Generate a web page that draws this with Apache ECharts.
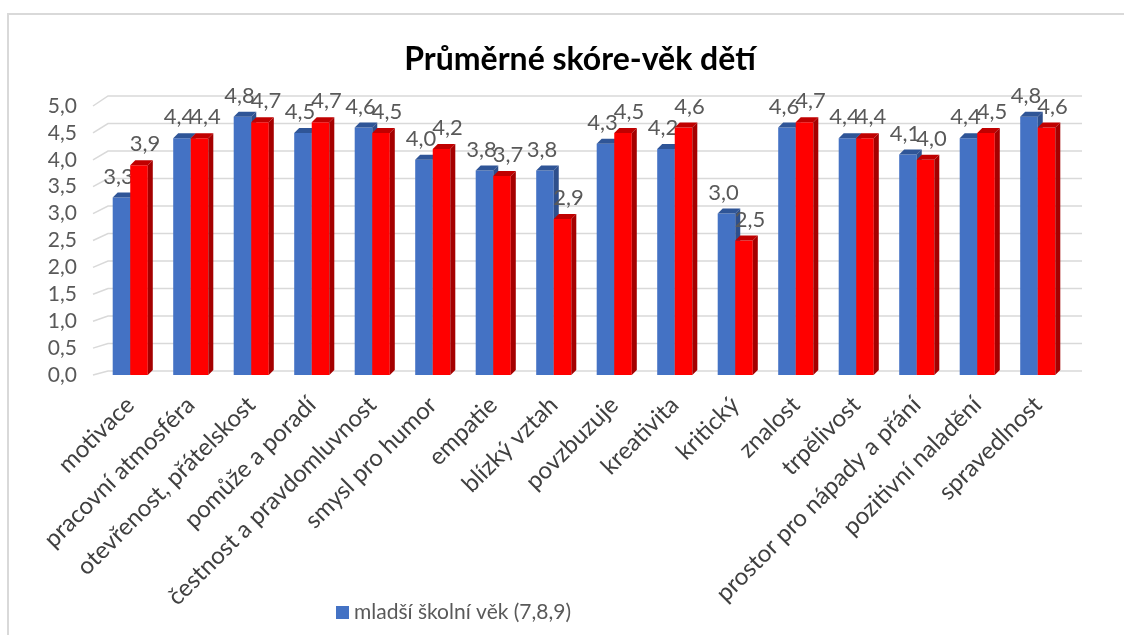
<!DOCTYPE html>
<html>
<head>
<meta charset="UTF-8">
<title>prumerne-skore-vek-deti</title>
<script src="https://cdn.jsdelivr.net/npm/echarts@6/dist/echarts.min.js"></script>
<style type="text/css">
html, body {
	margin: 0;
	padding: 0;
	background: #fff;
}

#main {
	width: 1124px;
	height: 635px;
}
</style>
</head>
<body>
	<div id="main"></div>
	<script type="text/javascript">
		// kategorie na ose x
		var categories = ['motivace', 'pracovní atmosféra', 'otevřenost, přátelskost',
			'pomůže a poradí', 'čestnost a pravdomluvnost', 'smysl pro humor',
			'empatie', 'blízký vztah', 'povzbuzuje', 'kreativita', 'kritický',
			'znalost', 'trpělivost', 'prostor pro nápady a přání',
			'pozitivní naladění', 'spravedlnost'];
		// mladší školní věk (modrá)
		var youngerValues = [3.3, 4.4, 4.8, 4.5, 4.6, 4.0, 3.8, 3.8, 4.3, 4.2, 3.0, 4.6, 4.4, 4.1, 4.4, 4.8];
		// druhá řada (červená)
		var olderValues = [3.9, 4.4, 4.7, 4.7, 4.5, 4.2, 3.7, 2.9, 4.5, 4.6, 2.5, 4.7, 4.4, 4.0, 4.5, 4.6];
		// hodnoty mřížky / popisky osy y
		var yTicks = [0, 0.5, 1, 1.5, 2, 2.5, 3, 3.5, 4, 4.5, 5];

		var youngerName = 'mladší školní věk (7,8,9)';
		var olderName = 'starší školní věk';
		var font = 'Lato';

		function fmt(v) {
			return v.toFixed(1).replace('.', ',');
		}

		/* 3D sloupec: čelo, vršek, bok + popisek */
		function barRenderer(left, colors, labelDx) {
			return function(params, api) {
				var i = api.value(0);
				var v = api.value(1);
				var base = api.coord([ i, 0 ]);
				var tip = api.coord([ i, v ]);
				var band = api.size([ 1, 0 ])[0];
				var w = band * 0.29;
				var d = 5;
				var x0 = left ? base[0] - w : base[0];
				var yt = tip[1], yb = base[1];
				return {
					type : 'group',
					children : [ {
						type : 'rect',
						shape : { x : x0, y : yt, width : w, height : yb - yt },
						style : { fill : colors[0] }
					}, {
						type : 'polygon',
						shape : { points : [ [ x0, yt ], [ x0 + d, yt - d ], [ x0 + w + d, yt - d ], [ x0 + w, yt ] ] },
						style : { fill : colors[1] }
					}, {
						type : 'polygon',
						shape : { points : [ [ x0 + w, yt ], [ x0 + w + d, yt - d ], [ x0 + w + d, yb - d ], [ x0 + w, yb ] ] },
						style : { fill : colors[2] }
					}, {
						type : 'text',
						style : {
							text : fmt(v),
							x : x0 + w / 2 + labelDx,
							y : yt - d - 5,
							align : 'center',
							verticalAlign : 'bottom',
							fill : '#595959',
							font : '22px ' + font
						}
					} ]
				};
			};
		}

		/* mřížka na zadní stěně s šikmým začátkem */
		function gridRenderer(params, api) {
			var v = api.value(1);
			var p = api.coord([ 0, v ]);
			var cs = params.coordSys;
			var off = 4 + v * 1.2;
			return {
				type : 'polyline',
				shape : { points : [ [ cs.x - 7, p[1] ], [ cs.x + 8, p[1] - off ], [ cs.x + cs.width + 14, p[1] - off ] ] },
				style : { stroke : '#d9d9d9', lineWidth : 1.5, fill : null }
			};
		}

		var myChart = echarts.init(document.getElementById('main'));

		var option = {
			animation : false,
			backgroundColor : '#fff',
			textStyle : { fontFamily : font },
			title : {
				text : 'Průměrné skóre-věk dětí',
				left : 575,
				top : 39,
				textAlign : 'center',
				textStyle : { fontSize : 32, fontWeight : 'bold', color : '#000', fontFamily : font }
			},
			graphic : [ {
				type : 'rect',
				shape : { x : 8, y : 14, width : 1200, height : 700 },
				style : { fill : 'none', stroke : '#d9d9d9', lineWidth : 2 },
				silent : true
			} ],
			legend : {
				data : [ youngerName ],
				left : 331,
				top : 597,
				icon : 'rect',
				itemWidth : 13,
				itemHeight : 13,
				itemGap : 6,
				textStyle : { fontSize : 21, color : '#595959', fontFamily : font }
			},
			grid : {
				left : 100,
				right : 56,
				top : 106,
				bottom : 260
			},
			xAxis : {
				type : 'category',
				data : categories,
				axisLine : { show : false },
				axisTick : { show : false },
				axisLabel : {
					interval : 0,
					rotate : 45,
					margin : 26,
					fontSize : 24,
					color : '#404040',
					fontFamily : font
				}
			},
			yAxis : {
				type : 'value',
				min : 0,
				max : 5,
				interval : 0.5,
				splitLine : { show : false },
				axisLabel : {
					margin : 23,
					fontSize : 21,
					color : '#595959',
					fontFamily : font,
					formatter : fmt
				}
			},
			series : [ {
				name : 'mrizka',
				type : 'custom',
				z : 1,
				silent : true,
				renderItem : gridRenderer,
				data : yTicks.map(function(t) { return [ 0, t ]; })
			}, {
				name : youngerName,
				type : 'custom',
				z : 2,
				itemStyle : { color : '#4472C4' },
				renderItem : barRenderer(true, [ '#4472C4', '#2F5597', '#2E4F8C' ], -3),
				data : youngerValues.map(function(v, i) { return [ i, v ]; })
			}, {
				name : olderName,
				type : 'custom',
				z : 3,
				itemStyle : { color : '#FF0000' },
				renderItem : barRenderer(false, [ '#FF0000', '#C00000', '#A50000' ], 6),
				data : olderValues.map(function(v, i) { return [ i, v ]; })
			} ]
		};

		myChart.setOption(option);
	</script>
</body>
</html>
